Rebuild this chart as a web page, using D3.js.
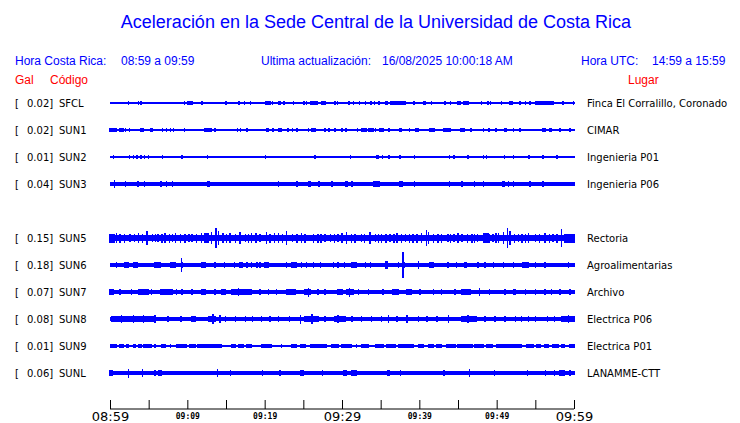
<!DOCTYPE html>
<html><head><meta charset="utf-8">
<script src="https://cdn.jsdelivr.net/npm/d3@7"></script>
<style>body{margin:0;background:#fff}svg{display:block}</style>
</head><body>
<script>
// ---------- DATA ----------
const title = "Aceleración en la Sede Central de la Universidad de Costa Rica";
const headerLeft = ["Hora Costa Rica:", "08:59 a 09:59"];
const headerMid = ["Ultima actualización:", "16/08/2025 10:00:18 AM"];
const headerRight = ["Hora UTC:", "14:59 a 15:59"];
const colHeads = ["Gal", "Código", "Lugar"];

// row slots (SUN4 slot is empty)
const slots = ["SFCL","SUN1","SUN2","SUN3","(SUN4)","SUN5","SUN6","SUN7","SUN8","SUN9","SUNL"];
const codes = ["SFCL","SUN1","SUN2","SUN3","SUN5","SUN6","SUN7","SUN8","SUN9","SUNL"];
const peaks = [0.02,0.02,0.01,0.04,0.15,0.18,0.07,0.08,0.01,0.06];
const places = ["Finca El Corralillo, Coronado","CIMAR","Ingenieria P01","Ingenieria P06","Rectoria","Agroalimentarias","Archivo","Electrica P06","Electrica P01","LANAMME-CTT"];
// background noise half-amplitude (Gal) per station
const baseAmp = [0.002,0.002,0,0.02,0.032,0.013,0.018,0.024,0,0.014];

// bursts read from the record: [minute, amp] or [fromMinute, toMinute, amp]; minutes after 08:59
const burstsSFCL = [[2.4,.012],[3.7,.012],[4.0,.012],[9.6,.012],[10.1,10.6,.015],[11.9,.015],[15.0,.01],[16.7,.01],[17.4,.012],[18.2,.01],[20.1,20.7,.012],[21.0,.01],[21.8,22.0,.012],[22.5,.01],[23.7,.01],[25.1,.01],[25.4,.012],[26.0,26.85,.015],[27.4,27.8,.015],[29.1,.012],[29.4,.01],[30.9,.012],[31.5,.01],[32.3,.012],[33.0,.012],[33.75,.012],[34.2,.012],[34.8,.012],[35.6,35.9,.015],[36.3,38.2,.015],[39.3,.01],[40.5,40.8,.015],[41.55,.01],[43.3,.01],[44.0,.01],[44.9,45.3,.015],[45.7,46.3,.012],[48.0,.01],[48.9,.012],[49.2,.01],[50.6,.01],[51.7,52.0,.015],[53.0,.01],[53.75,.01],[54.3,.01],[55.0,57.3,.015],[58.6,.012],[59.9,.012]];
const burstsSUN1 = [[0,0.86,.015],[1.3,1.7,.015],[2.0,.01],[2.5,.01],[4.0,4.3,.015],[5.3,5.5,.012],[6.8,.012],[7.3,.01],[7.85,.018],[8.2,.01],[9.6,.01],[12.2,13.15,.015],[13.6,.01],[16.5,.01],[16.9,.012],[17.7,.01],[20.2,20.5,.015],[21.1,.01],[21.8,22.1,.012],[23.0,.012],[23.6,.01],[24.2,.012],[25.7,.01],[26.1,26.5,.01],[27.8,.01],[28.3,.01],[29.1,.012],[30.0,.01],[30.5,.012],[32.0,.01],[32.5,33.2,.012],[33.4,34.05,.015],[34.35,.01],[34.9,35.3,.012],[36.1,.01],[37.5,37.7,.015],[38.7,.01],[39.5,39.9,.012],[41.4,41.9,.015],[43.2,44.0,.012],[45.3,45.8,.012],[46.7,.01],[48.3,.01],[49.0,.01],[49.9,.01],[51.0,51.3,.012],[52.2,.01],[53.0,.01],[55.9,56.25,.012],[56.8,57.1,.015],[58.2,.01],[59.5,.01]];
const burstsSUN2 = [[0.43,.01],[2.5,.01],[3.0,.008],[3.5,.01],[4.0,.008],[4.45,.01],[4.95,.008],[6.8,.008],[9.3,.01],[12.6,.014],[20.1,.014],[26.5,.01],[31.1,.008],[34.5,.008],[34.7,.008],[35.2,.01],[36.1,.008],[37.5,.01],[39.35,.01],[43.9,.01],[44.5,.008],[46.3,.008],[48.3,.008],[48.7,.01],[51.0,.01],[52.2,.008],[54.2,.01],[56.0,.01],[57.8,.01]];
const burstsSUN3 = [[0.56,.04],[2.0,.028],[3.6,.028],[4.45,.028],[6.6,.028],[7.3,.028],[8.05,.028],[12.6,12.9,.028],[21.8,.028],[24.2,.026],[25.7,25.9,.028],[27.0,.026],[28.7,.026],[30.5,30.7,.028],[31.3,.026],[34.05,34.5,.026],[34.8,.026],[37.4,37.8,.03],[39.35,.026],[43.9,.026],[45.5,.026],[47.1,.026],[48.3,.026],[50.8,51.0,.028],[51.5,.026],[52.2,.026],[54.3,.026],[56.0,.026]];
const burstsSUN5 = [[0,0.5,.05],[0.86,.055],[1.3,.05],[1.9,.05],[2.6,.045],[3.2,.045],[3.7,.055],[4.2,.05],[4.8,.08],[5.5,.045],[5.9,.045],[6.2,.045],[6.7,.05],[7.1,.055],[7.7,.05],[8.1,.045],[8.5,.055],[9.1,.05],[9.7,.05],[10.2,.045],[10.6,.045],[11.2,.05],[11.85,.055],[12.3,12.7,.06],[13.15,.065],[13.7,.135],[14.0,.085],[14.6,.055],[15.1,.05],[15.5,.055],[16.2,.05],[16.8,.065],[17.5,.045],[17.9,.05],[18.3,.055],[18.9,.055],[19.4,.045],[20.2,.075],[20.7,.05],[21.3,.055],[21.8,.055],[22.3,.05],[22.8,.08],[23.6,.045],[24.2,.05],[24.8,.055],[25.2,.05],[26.3,.05],[26.9,.05],[27.3,.05],[27.8,.045],[28.5,.045],[29.0,.05],[29.5,.045],[30.0,.055],[30.6,.065],[31.2,.05],[31.7,.05],[32.5,.045],[32.9,.05],[33.6,.075],[34.3,.045],[34.7,.05],[35.1,.05],[35.7,.05],[36.2,.045],[36.7,.05],[37.1,.055],[37.7,.05],[38.2,.045],[38.7,.05],[39.2,.05],[39.7,.05],[40.3,.06],[40.9,.095],[41.2,.065],[41.8,.05],[42.4,.05],[42.9,.05],[43.7,.045],[44.0,.05],[44.5,.045],[45.0,.055],[45.5,.045],[46.2,.05],[46.8,.05],[47.1,.05],[47.5,.045],[48.3,48.9,.055],[49.0,.05],[49.5,.045],[49.9,.055],[50.2,.06],[50.9,.075],[51.4,.135],[51.7,.085],[52.3,.05],[52.8,.045],[53.3,.05],[53.7,.05],[54.1,.055],[55.0,.045],[55.5,.05],[56.25,.055],[56.8,.05],[57.3,.045],[57.8,.05],[58.4,.115],[58.8,60,.05]];
const burstsSUN6 = [[0.86,.022],[1.9,2.4,.025],[3.0,3.5,.03],[5.8,6.5,.028],[7.8,8.4,.025],[9.27,.085],[9.4,.035],[11.85,12.3,.025],[13.6,.022],[14.8,.022],[16.1,.022],[16.8,17.1,.025],[17.7,.022],[18.3,.022],[19.0,.022],[19.4,.022],[20.0,20.5,.028],[22.8,.022],[23.5,24.1,.025],[24.8,.028],[25.4,.022],[26.3,.022],[27.2,.022],[28.9,.022],[29.5,.022],[30.3,.022],[31.25,31.8,.028],[33.0,.022],[33.7,.022],[35.6,35.8,.04],[37.3,.022],[37.9,.165],[38.1,.035],[39.9,.04],[41.4,41.8,.025],[43.7,.035],[44.8,.022],[45.9,46.1,.025],[47.6,.022],[48.5,.022],[49.6,.022],[50.9,.032],[52.2,.022],[53.4,54.1,.025],[55.0,.022],[56.25,.028],[59.3,.022]];
const burstsSUN7 = [[0,0.4,.028],[1.3,.032],[2.8,.032],[3.7,5.0,.03],[4.4,.035],[5.4,.028],[6.5,8.0,.03],[7.1,.035],[8.6,.032],[9.3,.028],[10.6,.032],[11.85,12.3,.032],[13.6,.032],[14.4,14.9,.028],[15.7,18.3,.03],[16.6,.042],[17.5,.035],[19.4,.028],[20.5,.032],[21.55,.032],[22.8,23.9,.032],[25.2,25.9,.035],[25.7,.05],[26.9,.032],[27.8,.028],[29.5,30.0,.032],[30.6,31.4,.035],[30.95,.05],[32.1,.032],[33.4,.028],[35.3,.032],[36.6,37.3,.035],[38.4,39.0,.035],[40.1,.032],[41.8,.028],[42.9,.032],[44.6,.032],[45.5,46.55,.035],[47.8,.045],[49.1,.032],[51.1,.032],[52.2,52.4,.032],[53.7,.028],[55.0,.032],[56.25,.032],[57.1,.032],[58.2,.035],[59.5,.032]];
const burstsSUN8 = [[0.2,5.8,.03],[1.5,.038],[3.0,.038],[4.3,.042],[5.8,.038],[7.5,.035],[9.2,.035],[10.6,11.0,.035],[12.7,13.6,.035],[13.3,.055],[14.2,.04],[14.9,.035],[16.2,.035],[17.5,.035],[18.4,.035],[19.6,.035],[20.7,.035],[21.8,.035],[23.2,.035],[24.6,.05],[25.2,26.9,.032],[26.1,.055],[27.8,.035],[29.1,30.4,.032],[29.5,.04],[31.3,.035],[32.5,.035],[33.8,.035],[35.1,.035],[36.0,.045],[37.1,.035],[38.4,.04],[39.9,.035],[41.0,.035],[42.3,.035],[43.75,.045],[45.5,47.4,.032],[46.3,.04],[48.5,.035],[49.8,.035],[51.1,.035],[52.4,.035],[53.2,.035],[54.1,.035],[55.0,.035],[56.6,.035],[57.5,.035],[58.4,60,.032],[59.3,.04]];
const burstsSUN9 = [[0.13,0.86,.008],[1.3,1.7,.008],[2.15,2.4,.008],[3.0,3.3,.008],[3.7,4.1,.008],[4.3,5.4,.008],[5.8,.008],[6.7,7.1,.008],[7.8,.008],[8.6,9.9,.008],[10.3,11.0,.008],[11.4,12.3,.008],[12.5,14.4,.008],[15.7,16.2,.008],[16.6,17.2,.008],[17.7,18.3,.008],[19.6,20.9,.008],[22.2,.008],[23.5,24.1,.008],[24.6,25.2,.008],[25.9,28.0,.008],[28.7,29.5,.008],[30.0,31.25,.008],[31.9,.008],[32.5,33.4,.008],[34.3,35.3,.008],[35.8,36.9,.008],[37.3,39.2,.008],[39.9,40.5,.008],[41.2,41.8,.008],[42.2,42.9,.008],[43.5,44.6,.008],[45.0,46.8,.008],[47.2,48.3,.008],[48.7,49.4,.008],[50.0,53.2,.008],[53.9,54.7,.008],[55.2,55.6,.008],[56.25,56.7,.008],[57.3,58.0,.008],[58.4,58.8,.008],[59.5,60,.008]];
const burstsSUNL = [[0,0.3,.028],[2.37,.05],[4.18,.042],[5.8,.028],[6.3,6.6,.032],[13.9,.042],[15.6,.028],[19.7,.025],[22.0,.025],[24.6,25.0,.028],[27.5,.025],[30.2,30.5,.025],[31.25,31.8,.028],[35.9,36.1,.028],[37.6,.025],[43.2,.025],[46.5,.042],[49.7,.025],[54.0,.025],[56.3,.025],[57.5,.025],[58.2,58.75,.028],[59.5,.028]];
const bursts = [burstsSFCL,burstsSUN1,burstsSUN2,burstsSUN3,burstsSUN5,burstsSUN6,burstsSUN7,burstsSUN8,burstsSUN9,burstsSUNL];

// time axis: minutes after 08:59
const tickMinutes = [0,5,10,15,20,25,30,35,40,45,50,55,60];
const tickLabels = ["08:59","","09:09","","09:19","","09:29","","09:39","","09:49","","09:59"];
const majorLabels = ["08:59","09:29","09:59"];

// ---------- CHART ----------
const W = 740, H = 423;
const svg = d3.select("body").append("svg").attr("width", W).attr("height", H)
  .style("font-family", "'Liberation Sans', Arial, sans-serif");

const blue = "#0000ff";
svg.append("text").attr("x", 376).attr("y", 28).attr("text-anchor", "middle")
  .attr("font-size", 18).attr("fill", blue).text(title);

const hdr = svg.append("g").attr("font-size", 12).attr("fill", blue);
hdr.append("text").attr("x", 15).attr("y", 65).text(headerLeft[0]);
hdr.append("text").attr("x", 121).attr("y", 65).text(headerLeft[1]);
hdr.append("text").attr("x", 261).attr("y", 65).text(headerMid[0]);
hdr.append("text").attr("x", 382).attr("y", 65).text(headerMid[1]);
hdr.append("text").attr("x", 581).attr("y", 65).text(headerRight[0]);
hdr.append("text").attr("x", 652).attr("y", 65).text(headerRight[1]);

const red = svg.append("g").attr("font-size", 12).attr("fill", "#ff0000");
red.append("text").attr("x", 15).attr("y", 84).text(colHeads[0]);
red.append("text").attr("x", 50).attr("y", 84).text(colHeads[1]);
red.append("text").attr("x", 628).attr("y", 84).text(colHeads[2]);

const x = d3.scaleLinear().domain([0, 60]).range([110, 574]);
const y = d3.scalePoint().domain(slots).range([103, 373]);
const amp = d3.scaleLinear().domain([0, 0.18]).range([0, 12.6]);

const rows = svg.append("g").selectAll("g").data(codes).join("g")
  .attr("transform", d => `translate(0,${y(d)})`);

const lab = rows.append("g").attr("font-family", "'DejaVu Sans', sans-serif").attr("font-size", 10).attr("fill", "#000");
lab.append("text").attr("x", 15).attr("y", 4).text("[");
lab.append("text").attr("x", 27).attr("y", 4).text((d, i) => peaks[i].toFixed(2) + "]");
lab.append("text").attr("x", 59).attr("y", 4).text(d => d);
lab.append("text").attr("x", 587).attr("y", 4).text((d, i) => places[i]);

rows.each(function(d, i) {
  const g = d3.select(this).append("g").attr("fill", blue).attr("shape-rendering", "crispEdges");
  const hb = amp(baseAmp[i]) + 0.6;
  g.append("rect").attr("x", x(0)).attr("width", x(60) - x(0) + 1)
    .attr("y", -hb).attr("height", 2 * hb);
  g.selectAll("rect.b").data(bursts[i]).join("rect").attr("class", "b")
    .each(function(b) {
      const t0 = b[0], t1 = b.length === 3 ? b[1] : b[0], a = b[b.length - 1];
      const h = amp(a) + 1.0;
      d3.select(this).attr("x", x(t0) - 0.7).attr("width", Math.max(x(t1) - x(t0), 0) + 1.4)
        .attr("y", -h).attr("height", 2 * h);
    });
});

// axis
const axis = d3.axisBottom(x).tickValues(tickMinutes).tickSize(-9).tickPadding(0)
  .tickFormat((d, i) => tickLabels[i]);
const ag = svg.append("g").attr("transform", "translate(0,409)").call(axis);
ag.select(".domain").attr("stroke", "#000").attr("d", `M${x(0)},0H${x(60)}`);
ag.selectAll(".tick line").attr("stroke", "#000");
ag.selectAll(".tick text").attr("fill", "#000")
  .each(function(d, i) {
    const s = d3.select(this), lbl = tickLabels[i];
    if (majorLabels.includes(lbl)) {
      s.attr("font-family", "'DejaVu Sans', sans-serif").attr("font-size", 13).attr("dy", null).attr("y", 12);
    } else {
      s.attr("font-family", "'DejaVu Sans Mono', monospace").attr("font-size", 8).attr("font-weight", "bold").attr("dy", null).attr("y", 10);
    }
  });
</script>
</body></html>
